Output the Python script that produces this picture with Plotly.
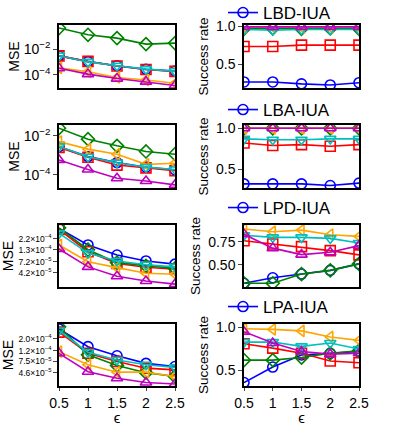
import plotly.graph_objects as go

eps = [0.5, 1, 1.5, 2, 2.5]
noms = ["LBD-IUA", "LBA-IUA", "LPD-IUA", "LPA-IUA"]

# style des 6 séries (bleu, rouge, vert, orange, cyan, magenta)
couleurs = ["#0000ff", "#ff0000", "#008000", "#ffa500", "#00bfbf", "#bf00bf"]
symboles = ["circle-open", "square-open", "diamond-open", "triangle-left-open",
            "triangle-down-open", "triangle-up-open"]

# MSE par ligne de sous-graphes (bleu, rouge, vert, orange, cyan, magenta)
mse_lbd = [
    [3.0e-3, 1.05e-3, 5.0e-4, 2.6e-4, 1.9e-4],
    [3.0e-3, 1.1e-3, 4.8e-4, 2.5e-4, 1.8e-4],
    [0.46, 0.135, 0.074, 0.025, 0.03],
    [3.4e-4, 1.7e-4, 6.0e-5, 3.8e-5, 2.1e-5],
    [3.1e-3, 1.0e-3, 5.0e-4, 2.7e-4, 1.9e-4],
    [3.2e-4, 1.1e-4, 4.9e-5, 2.8e-5, 1.4e-5],
]
mse_lba = [
    [2.8e-3, 8.7e-4, 4.3e-4, 2.5e-4, 1.8e-4],
    [2.6e-3, 8.0e-4, 3.2e-4, 2.3e-4, 1.65e-4],
    [0.025, 6.8e-3, 3.1e-3, 1.6e-3, 1.15e-3],
    [5.1e-3, 2.1e-3, 1.15e-3, 3.5e-4, 4.0e-4],
    [2.9e-3, 8.5e-4, 4.2e-4, 2.5e-4, 1.9e-4],
    [5.9e-4, 1.9e-4, 6.8e-5, 4.9e-5, 3.1e-5],
]
mse_lpd = [
    [3.7e-4, 1.64e-4, 1.0e-4, 7.5e-5, 6.4e-5],
    [3.5e-4, 1.18e-4, 6.6e-5, 5.5e-5, 5.0e-5],
    [3.8e-4, 1.3e-4, 6.9e-5, 5.9e-5, 5.2e-5],
    [1.64e-4, 7.2e-5, 5.4e-5, 4.1e-5, 3.9e-5],
    [2.9e-4, 1.1e-4, 7.5e-5, 6.2e-5, 5.6e-5],
    [1.35e-4, 5.6e-5, 3.55e-5, 2.8e-5, 2.4e-5],
]
mse_lpa = [
    [3.1e-4, 1.43e-4, 9.6e-5, 6.9e-5, 6.0e-5],
    [2.7e-4, 1.07e-4, 7.5e-5, 5.6e-5, 5.2e-5],
    [3.4e-4, 1.0e-4, 6.3e-5, 4.6e-5, 3.9e-5],
    [1.15e-4, 6.5e-5, 4.7e-5, 4.7e-5, 3.9e-5],
    [2.9e-4, 1.12e-4, 8.0e-5, 6.5e-5, 5.8e-5],
    [1.07e-4, 4.8e-5, 3.6e-5, 3.0e-5, 2.8e-5],
]

# taux de succès
taux_lbd = [
    [0.27, 0.27, 0.245, 0.23, 0.26],
    [0.736, 0.736, 0.755, 0.755, 0.755],
    [0.97, 0.975, 0.97, 0.975, 0.97],
    [0.99, 0.99, 0.99, 0.99, 0.99],
    [0.96, 0.95, 0.96, 0.96, 0.96],
    [0.995, 0.995, 0.995, 0.995, 0.995],
]
taux_lba = [
    [0.32, 0.32, 0.32, 0.30, 0.33],
    [0.82, 0.79, 0.80, 0.78, 0.80],
    [1.0, 1.0, 1.0, 1.0, 1.0],
    [1.0, 1.0, 1.0, 1.0, 1.0],
    [0.87, 0.86, 0.86, 0.87, 0.87],
    [1.0, 1.0, 1.0, 1.0, 1.0],
]
taux_lpd = [
    [0.30, 0.36, 0.40, 0.44, 0.51],
    [0.76, 0.725, 0.696, 0.653, 0.607],
    [0.30, 0.30, 0.40, 0.44, 0.51],
    [0.886, 0.857, 0.875, 0.825, 0.807],
    [0.82, 0.796, 0.796, 0.785, 0.736],
    [0.83, 0.68, 0.61, 0.635, 0.707],
]
taux_lpa = [
    [0.36, 0.54, 0.68, 0.70, 0.72],
    [0.81, 0.76, 0.70, 0.61, 0.59],
    [0.62, 0.62, 0.65, 0.70, 0.73],
    [0.985, 0.977, 0.96, 0.89, 0.85],
    [0.83, 0.83, 0.78, 0.82, 0.75],
    [0.95, 0.82, 0.72, 0.69, 0.70],
]

mse = [mse_lbd, mse_lba, mse_lpd, mse_lpa]
taux = [taux_lbd, taux_lba, taux_lpd, taux_lpa]

# ticks des axes
mse_ticks = [
    ([1e-2, 1e-4], ["10<sup>−2</sup>", "10<sup>−4</sup>"]),
    ([1e-2, 1e-4], ["10<sup>−2</sup>", "10<sup>−4</sup>"]),
    ([2.2e-4, 1.3e-4, 7.2e-5, 4.2e-5],
     ["2.2×10<sup>−4</sup>", "1.3×10<sup>−4</sup>", "7.2×10<sup>−5</sup>", "4.2×10<sup>−5</sup>"]),
    ([2.0e-4, 1.2e-4, 7.5e-5, 4.6e-5],
     ["2.0×10<sup>−4</sup>", "1.2×10<sup>−4</sup>", "7.5×10<sup>−5</sup>", "4.6×10<sup>−5</sup>"]),
]
mse_plages = [[-5.05, -0.1], [-4.67, -1.44], [-4.68, -3.36], [-4.59, -3.415]]
taux_ticks = [
    ([0.5, 1.0], ["0.5", "1.0"]),
    ([0.5, 1.0], ["0.5", "1.0"]),
    ([0.5, 0.75], ["0.50", "0.75"]),
    ([0.5, 1.0], ["0.5", "1.0"]),
]
taux_plages = [[0.19, 1.02], [0.27, 1.04], [0.26, 0.93], [0.32, 1.04]]

lignes = [(25, 88), (125, 188), (225, 287), (324, 386)]
H, W = 426, 399
police = "Liberation Sans, Arial, sans-serif"

fig = go.Figure()
layout = dict(width=W, height=H, margin=dict(l=0, r=0, t=0, b=0, autoexpand=False),
              plot_bgcolor="white", paper_bgcolor="white",
              font=dict(family=police, color="black"))

legendes_y = [13, 110, 208, 307]

for i in range(4):
    k = 2 * i + 1
    xg, yg, xd, yd = f"x{k}", f"y{k}", f"x{k+1}", f"y{k+1}"
    leg = "legend" if i == 0 else f"legend{i+1}"
    for s in range(6):
        style = dict(mode="lines+markers",
                     line=dict(color=couleurs[s], width=1.6),
                     marker=dict(symbol=symboles[s], size=10, color=couleurs[s],
                                 line=dict(width=1.6)))
        fig.add_trace(go.Scatter(x=eps, y=mse[i][s], xaxis=xg, yaxis=yg,
                                 showlegend=False, **style))
        fig.add_trace(go.Scatter(x=eps, y=taux[i][s], xaxis=xd, yaxis=yd,
                                 name=noms[i], legend=leg,
                                 showlegend=(s == 0), **style))

    haut, bas = lignes[i]
    dom_y = [1 - bas / H, 1 - haut / H]
    bottom = i == 3
    ax_x = dict(range=[0.5, 2.5], showline=True, mirror=True, linecolor="black",
                linewidth=1.5, ticks="outside" if bottom else "", ticklen=3,
                tickvals=eps, ticktext=["0.5", "1", "1.5", "2", "2.5"],
                showticklabels=bottom, showgrid=False, zeroline=False,
                tickfont=dict(size=14), automargin=False)
    if bottom:
        ax_x["title"] = dict(text="ϵ", font=dict(size=15), standoff=0)
    petit = i >= 2
    layout[f"xaxis{k}"] = dict(ax_x, domain=[59 / W, 175 / W], anchor=yg)
    layout[f"xaxis{k+1}"] = dict(ax_x, domain=[244 / W, 359 / W], anchor=yd)
    layout[f"yaxis{k}"] = dict(type="log", range=mse_plages[i], domain=dom_y, anchor=xg,
                               showline=True, mirror=True, linecolor="black", linewidth=1.5,
                               ticks="outside", ticklen=4, showgrid=False, automargin=False,
                               tickvals=mse_ticks[i][0], ticktext=mse_ticks[i][1],
                               tickfont=dict(size=8.5 if petit else 14),
                               title=dict(text="MSE", font=dict(size=14),
                                          standoff=3 if petit else 1))
    layout[f"yaxis{k+1}"] = dict(range=taux_plages[i], domain=dom_y, anchor=xd,
                                 showline=True, mirror=True, linecolor="black", linewidth=1.5,
                                 ticks="outside", ticklen=4, showgrid=False, zeroline=False,
                                 automargin=False,
                                 tickvals=taux_ticks[i][0], ticktext=taux_ticks[i][1],
                                 tickfont=dict(size=14),
                                 title=dict(text="Success rate", font=dict(size=13.5), standoff=4))
    layout[leg] = dict(x=223 / W, y=1 - legendes_y[i] / H, xanchor="left", yanchor="middle",
                       bgcolor="rgba(0,0,0,0)", font=dict(size=17), itemwidth=30)

fig.update_layout(**layout)
# la page a une marge de 8 px par défaut : on l'enlève
fig.write_html("out.html", config={"displayModeBar": False},
               post_script="document.body.style.margin='0';")
